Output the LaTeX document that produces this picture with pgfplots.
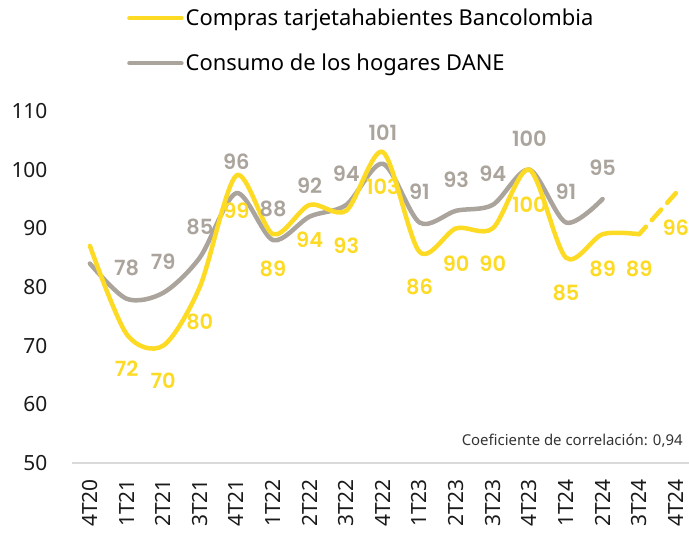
\documentclass[border=0pt]{standalone}
\usepackage{fontspec}
\setmainfont{Noto Sans}
\newfontfamily\lblfont{Poppins SemiBold}
\usepackage{pgfplots}
\pgfplotsset{compat=1.18}
\definecolor{ylw}{HTML}{FDDA24}
\definecolor{gry}{HTML}{AAA49C}
\definecolor{txt}{HTML}{1A1A1A}
\begin{document}
\begin{tikzpicture}
\path[use as bounding box] (0,0) rectangle (689bp,537bp);
\begin{axis}[
  at={(71.6bp,74bp)}, anchor=south west,
  scale only axis, width=617.4bp, height=352bp,
  xmin=-0.5, xmax=16.36, ymin=50, ymax=110,
  ytick={50,60,...,110},
  xtick={0,...,16},
  xticklabels={4T20,1T21,2T21,3T21,4T21,1T22,2T22,3T22,4T22,1T23,2T23,3T23,4T23,1T24,2T24,3T24,4T24},
  axis x line*=bottom, axis y line*=left,
  x axis line style={draw=black!15, line width=1.5bp},
  y axis line style={draw=none},
  major tick length=0pt,
  /pgf/number format/assume math mode=true,
  yticklabel style={font=\fontsize{21}{24}\selectfont, text=txt, inner sep=0pt, xshift=-24bp},
  xticklabel style={font=\fontsize{21}{24}\selectfont, text=txt, rotate=90, anchor=east, inner sep=0pt},
  xticklabel shift=16bp,
  clip=false,
  reverse legend,
  legend style={draw=none, fill=none, at={(axis description cs:0.0897,1.296)}, anchor=north west,
    font=\fontsize{22}{26}\selectfont, row sep=23bp, inner sep=0pt,
    /tikz/every even column/.append style={column sep=4bp}},
  legend cell align=left,
  legend image code/.code={\draw[#1, line width=4.5bp, line cap=round] (0bp,0bp) -- (52bp,0bp);},
]
\addplot[gry, line width=4.5bp, smooth, line cap=round] coordinates {
 (0,84)(1,78)(2,79)(3,85)(4,96)(5,88)(6,92)(7,94)(8,101)(9,91)(10,93)(11,94)(12,100)(13,91)(14,95)};
\addlegendentry{Consumo de los hogares DANE}
\addplot[ylw, line width=4.5bp, smooth, line cap=round] coordinates {
 (0,87)(1,72)(2,70)(3,80)(4,99)(5,89)(6,94)(7,93)(8,103)(9,86)(10,90)(11,90)(12,100)(13,85)(14,89)(15,89)};
\addlegendentry{Compras tarjetahabientes Bancolombia}
\addplot[ylw, line width=4.5bp, line cap=round, forget plot,
  dash pattern=on 10bp off 9bp on 14bp off 9bp on 20bp] coordinates {(15,89)(16,96)};
% labels
\addplot[draw=none, forget plot, nodes near coords, point meta=explicit symbolic,
  nodes near coords style={font=\lblfont\fontsize{21}{21}\selectfont, text=ylw, anchor=center, yshift=-35bp}]
 coordinates {(1,72)[72] (2,70)[70] (3,80)[80] (4,99)[99] (5,89)[89] (6,94)[94] (7,93)[93] (8,103)[103]
  (9,86)[86] (10,90)[90] (11,90)[90] (12,100)[100] (13,85)[85] (14,89)[89] (15,89)[89] (16,96)[96]};
\addplot[draw=none, forget plot, nodes near coords, point meta=explicit symbolic,
  nodes near coords style={font=\lblfont\fontsize{21}{21}\selectfont, text=gry, anchor=center, yshift=31bp}]
 coordinates {(1,78)[78] (2,79)[79] (3,85)[85] (4,96)[96] (5,88)[88] (6,92)[92] (7,94)[94] (8,101)[101]
  (9,91)[91] (10,93)[93] (11,94)[94] (12,100)[100] (13,91)[91] (14,95)[95]};
\node[anchor=east, font=\fontsize{15}{18}\selectfont, text=black!80, inner sep=0pt] at (axis description cs:0.990,0.0625) {Coeficiente de correlación: 0,94};
\end{axis}
\end{tikzpicture}
\end{document}
